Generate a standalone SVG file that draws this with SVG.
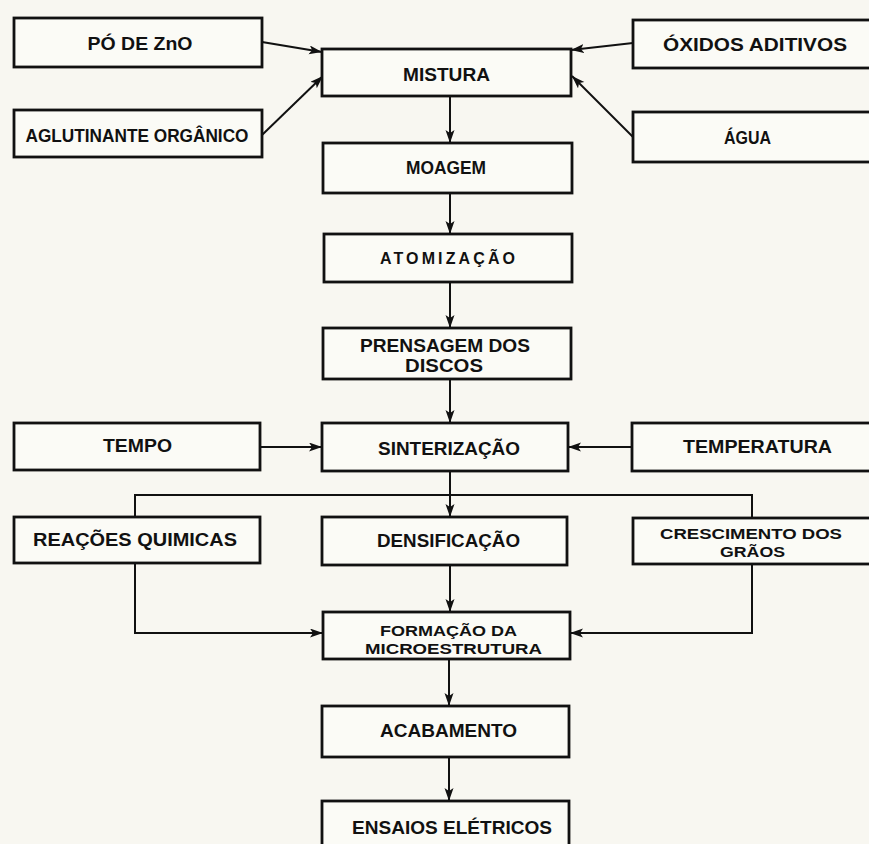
<svg xmlns="http://www.w3.org/2000/svg" width="869" height="844" viewBox="0 0 869 844">
<defs>
<style>
.bg{fill:#f8f7f1}
.box{fill:#fbfbf6;stroke:#111;stroke-width:2.8}
.t{font-family:"Liberation Sans","Arial",sans-serif;font-weight:bold;font-size:18px;fill:#111;text-anchor:middle}
.s{font-size:15px}
.c{fill:none;stroke:#111;stroke-width:2}
</style>
<marker id="ah" markerUnits="userSpaceOnUse" markerWidth="14" markerHeight="10" refX="13" refY="4.5" orient="auto">
<path d="M0,0 L13,4.5 L0,9 L3,4.5 z" fill="#111"/>
</marker>
</defs>
<rect class="bg" x="0" y="0" width="869" height="844"/>

<g id="connectors">
<line class="c" x1="262" y1="42" x2="322" y2="52" marker-end="url(#ah)"/>
<line class="c" x1="262" y1="135" x2="323" y2="76" marker-end="url(#ah)"/>
<line class="c" x1="633" y1="43" x2="571" y2="50" marker-end="url(#ah)"/>
<line class="c" x1="633" y1="137" x2="572" y2="76" marker-end="url(#ah)"/>
<line class="c" x1="450" y1="96" x2="450" y2="143" marker-end="url(#ah)"/>
<line class="c" x1="450" y1="193" x2="450" y2="234" marker-end="url(#ah)"/>
<line class="c" x1="450" y1="282" x2="450" y2="328" marker-end="url(#ah)"/>
<line class="c" x1="450" y1="379" x2="450" y2="423" marker-end="url(#ah)"/>
<line class="c" x1="260" y1="447" x2="322" y2="447" marker-end="url(#ah)"/>
<line class="c" x1="632" y1="447" x2="568" y2="447" marker-end="url(#ah)"/>
<line class="c" x1="450" y1="471" x2="450" y2="517" marker-end="url(#ah)"/>
<polyline class="c" points="135,517 135,495 752,495 752,518"/>
<line class="c" x1="450" y1="565" x2="450" y2="612" marker-end="url(#ah)"/>
<polyline class="c" points="135,563 135,633 323,633" marker-end="url(#ah)"/>
<polyline class="c" points="752,564 752,633 570,633" marker-end="url(#ah)"/>
<line class="c" x1="449" y1="659" x2="449" y2="706" marker-end="url(#ah)"/>
<line class="c" x1="449" y1="757" x2="449" y2="801" marker-end="url(#ah)"/>
</g>

<g id="po-zno"><rect class="box" x="14" y="18" width="248" height="49"/><text class="t" x="140" y="50" textLength="105" lengthAdjust="spacingAndGlyphs">PÓ DE ZnO</text></g>
<g id="aglutinante"><rect class="box" x="14" y="110" width="248" height="47"/><text class="t" x="137" y="142" textLength="223" lengthAdjust="spacingAndGlyphs">AGLUTINANTE ORGÂNICO</text></g>
<g id="mistura"><rect class="box" x="322" y="49" width="249" height="47"/><text class="t" x="446.5" y="81" textLength="87" lengthAdjust="spacingAndGlyphs">MISTURA</text></g>
<g id="oxidos"><rect class="box" x="633" y="20" width="250" height="48"/><text class="t" x="755" y="51" textLength="184" lengthAdjust="spacingAndGlyphs">ÓXIDOS  ADITIVOS</text></g>
<g id="agua"><rect class="box" x="633" y="112" width="250" height="50"/><text class="t" x="747.5" y="144" textLength="47" lengthAdjust="spacingAndGlyphs">ÁGUA</text></g>
<g id="moagem"><rect class="box" x="323" y="143" width="249" height="50"/><text class="t" x="446" y="174" textLength="80" lengthAdjust="spacingAndGlyphs">MOAGEM</text></g>
<g id="atomizacao"><rect class="box" x="324" y="234" width="248" height="48"/><text class="t" x="447.5" y="264" style="font-size:16px" textLength="135" lengthAdjust="spacing">ATOMIZAÇÃO</text></g>
<g id="prensagem"><rect class="box" x="323" y="328" width="248" height="51"/><text class="t" x="445" y="352" textLength="170" lengthAdjust="spacingAndGlyphs">PRENSAGEM DOS</text><text class="t" x="444" y="372" textLength="78" lengthAdjust="spacingAndGlyphs">DISCOS</text></g>
<g id="tempo"><rect class="box" x="14" y="423" width="246" height="47"/><text class="t" x="137.5" y="452" textLength="69" lengthAdjust="spacingAndGlyphs">TEMPO</text></g>
<g id="sinterizacao"><rect class="box" x="322" y="423" width="246" height="48"/><text class="t" x="449" y="455" textLength="142" lengthAdjust="spacingAndGlyphs">SINTERIZAÇÃO</text></g>
<g id="temperatura"><rect class="box" x="632" y="423" width="250" height="48"/><text class="t" x="757.5" y="453" textLength="149" lengthAdjust="spacingAndGlyphs">TEMPERATURA</text></g>
<g id="reacoes"><rect class="box" x="14" y="517" width="246" height="46"/><text class="t" x="135" y="546" textLength="204" lengthAdjust="spacingAndGlyphs">REAÇÕES   QUIMICAS</text></g>
<g id="densificacao"><rect class="box" x="322" y="517" width="245" height="48"/><text class="t" x="448.5" y="547" textLength="143" lengthAdjust="spacingAndGlyphs">DENSIFICAÇÃO</text></g>
<g id="crescimento"><rect class="box" x="633" y="518" width="250" height="46"/><text class="t s" x="751" y="539" textLength="182" lengthAdjust="spacingAndGlyphs">CRESCIMENTO DOS</text><text class="t s" x="752.5" y="557" textLength="65" lengthAdjust="spacingAndGlyphs">GRÃOS</text></g>
<g id="formacao"><rect class="box" x="323" y="612" width="247" height="47"/><text class="t s" x="448.5" y="636" textLength="137" lengthAdjust="spacingAndGlyphs">FORMAÇÃO DA</text><text class="t s" x="453.5" y="654" textLength="177" lengthAdjust="spacingAndGlyphs">MICROESTRUTURA</text></g>
<g id="acabamento"><rect class="box" x="322" y="706" width="247" height="51"/><text class="t" x="448.5" y="737" textLength="137" lengthAdjust="spacingAndGlyphs">ACABAMENTO</text></g>
<g id="ensaios"><rect class="box" x="322" y="801" width="247" height="60"/><text class="t" x="452" y="834" textLength="200" lengthAdjust="spacingAndGlyphs">ENSAIOS ELÉTRICOS</text></g>
</svg>
